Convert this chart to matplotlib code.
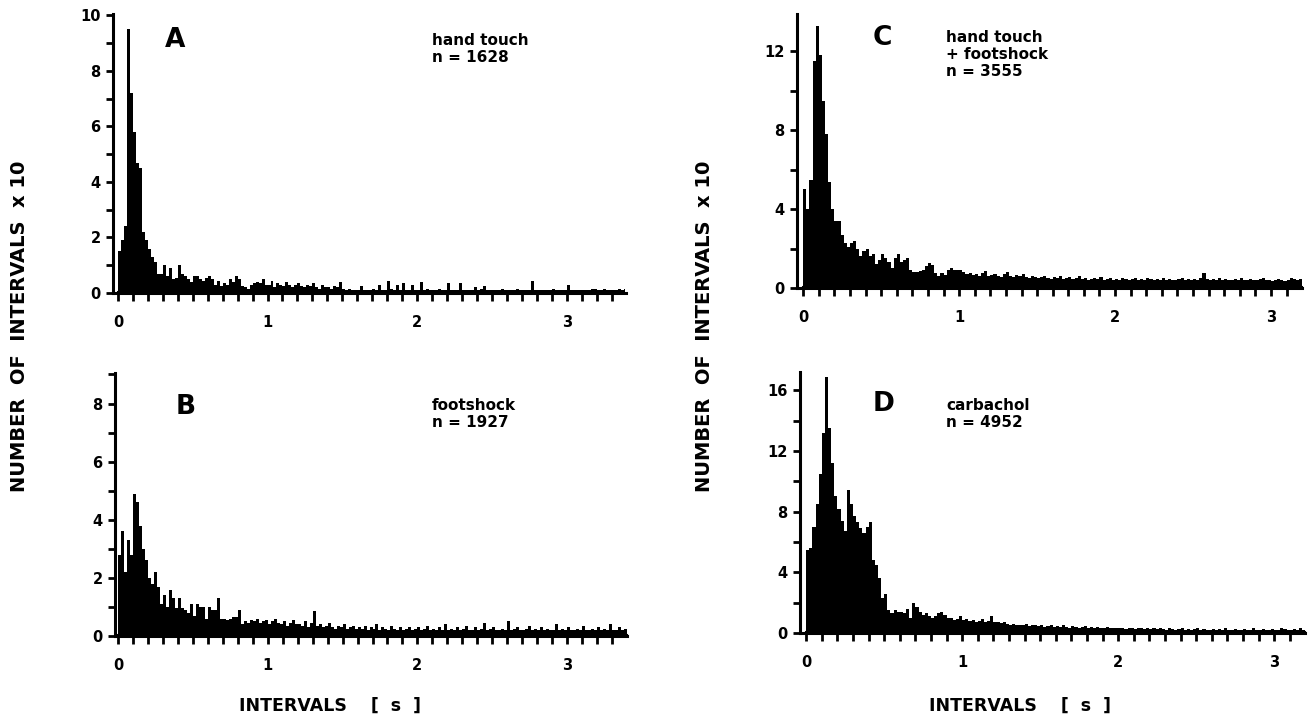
import numpy as np
import matplotlib
matplotlib.use("Agg")
from matplotlib import pyplot as plt
from matplotlib.ticker import MultipleLocator

bin_w = 0.02  # s

# number of intervals x 10, per 20 ms bin
hand_touch = [1.5, 1.9, 2.4, 9.5, 7.2, 5.8, 4.7, 4.5, 2.2, 1.9,
              1.6, 1.3, 1.1, 0.7, 0.7, 1.0, 0.6, 0.9, 0.5, 0.55,
              1.0, 0.7, 0.6, 0.5, 0.4, 0.6, 0.6, 0.5, 0.45, 0.55,
              0.6, 0.5, 0.3, 0.45, 0.25, 0.35, 0.3, 0.5, 0.4, 0.6,
              0.5, 0.25, 0.2, 0.15, 0.3, 0.35, 0.4, 0.35, 0.5, 0.3,
              0.3, 0.45, 0.2, 0.35, 0.3, 0.25, 0.4, 0.3, 0.2, 0.3,
              0.35, 0.25, 0.2, 0.3, 0.25, 0.35, 0.2, 0.15, 0.3, 0.2,
              0.2, 0.15, 0.25, 0.2, 0.4, 0.15, 0.1, 0.15, 0.1, 0.1,
              0.1, 0.25, 0.1, 0.1, 0.1, 0.15, 0.1, 0.3, 0.1, 0.1,
              0.45, 0.15, 0.1, 0.3, 0.1, 0.35, 0.1, 0.1, 0.3, 0.1,
              0.1, 0.4, 0.1, 0.15, 0.1, 0.1, 0.1, 0.15, 0.1, 0.1,
              0.35, 0.1, 0.1, 0.1, 0.35, 0.1, 0.1, 0.1, 0.1, 0.2,
              0.1, 0.15, 0.25, 0.1, 0.1, 0.1, 0.1, 0.1, 0.15, 0.1,
              0.1, 0.1, 0.1, 0.15, 0.1, 0.1, 0.1, 0.1, 0.45, 0.1,
              0.1, 0.1, 0.1, 0.1, 0.1, 0.15, 0.1, 0.1, 0.1, 0.1,
              0.3, 0.1, 0.1, 0.1, 0.1, 0.1, 0.1, 0.1, 0.15, 0.15,
              0.1, 0.1, 0.15, 0.1, 0.1, 0.1, 0.1, 0.15, 0.1, 0.15]

footshock = [2.8, 3.6, 2.2, 3.3, 2.8, 4.9, 4.6, 3.8, 3.0, 2.6,
             2.0, 1.8, 2.2, 1.7, 1.1, 1.4, 1.0, 1.6, 1.3, 0.95,
             1.3, 0.95, 0.9, 0.8, 1.1, 0.7, 1.1, 1.0, 1.0, 0.6,
             1.0, 0.9, 0.9, 1.3, 0.6, 0.6, 0.55, 0.6, 0.65, 0.65,
             0.9, 0.4, 0.5, 0.45, 0.55, 0.5, 0.6, 0.45, 0.5, 0.55,
             0.4, 0.5, 0.6, 0.45, 0.4, 0.5, 0.35, 0.45, 0.55, 0.4,
             0.4, 0.35, 0.5, 0.3, 0.45, 0.85, 0.35, 0.4, 0.3, 0.35,
             0.45, 0.3, 0.25, 0.35, 0.3, 0.4, 0.25, 0.3, 0.35, 0.25,
             0.3, 0.25, 0.35, 0.2, 0.3, 0.25, 0.4, 0.2, 0.3, 0.25,
             0.2, 0.35, 0.25, 0.2, 0.3, 0.2, 0.25, 0.3, 0.2, 0.25,
             0.3, 0.2, 0.25, 0.35, 0.2, 0.25, 0.2, 0.3, 0.2, 0.4,
             0.2, 0.25, 0.2, 0.3, 0.2, 0.25, 0.35, 0.2, 0.2, 0.3,
             0.2, 0.25, 0.45, 0.2, 0.25, 0.3, 0.2, 0.2, 0.25, 0.2,
             0.5, 0.2, 0.25, 0.3, 0.2, 0.2, 0.25, 0.35, 0.2, 0.25,
             0.2, 0.3, 0.2, 0.25, 0.2, 0.2, 0.4, 0.2, 0.25, 0.2,
             0.3, 0.2, 0.2, 0.25, 0.2, 0.35, 0.2, 0.2, 0.25, 0.2,
             0.3, 0.2, 0.25, 0.2, 0.4, 0.2, 0.2, 0.3, 0.2, 0.25]

touch_shock = [5.0, 4.0, 5.5, 11.5, 13.3, 11.8, 9.5, 7.8, 5.4, 4.0,
               3.4, 3.4, 2.7, 2.3, 2.1, 2.3, 2.4, 2.0, 1.6, 1.9,
               2.0, 1.6, 1.75, 1.2, 1.4, 1.7, 1.5, 1.3, 1.0, 1.5,
               1.7, 1.3, 1.4, 1.5, 0.9, 0.8, 0.8, 0.85, 0.9, 1.1,
               1.25, 1.15, 0.75, 0.6, 0.75, 0.65, 0.9, 1.0, 0.9, 0.9,
               0.9, 0.8, 0.7, 0.75, 0.65, 0.7, 0.6, 0.75, 0.85, 0.6,
               0.65, 0.7, 0.6, 0.55, 0.7, 0.8, 0.6, 0.55, 0.65, 0.6,
               0.7, 0.55, 0.5, 0.6, 0.55, 0.5, 0.55, 0.6, 0.5, 0.45,
               0.55, 0.5, 0.6, 0.45, 0.5, 0.55, 0.45, 0.5, 0.6, 0.45,
               0.5, 0.4, 0.45, 0.5, 0.45, 0.55, 0.4, 0.45, 0.5, 0.4,
               0.45, 0.4, 0.5, 0.45, 0.4, 0.45, 0.5, 0.4, 0.45, 0.4,
               0.5, 0.45, 0.4, 0.45, 0.4, 0.5, 0.4, 0.45, 0.4, 0.4,
               0.45, 0.5, 0.4, 0.45, 0.4, 0.45, 0.4, 0.5, 0.75, 0.45,
               0.4, 0.45, 0.4, 0.5, 0.4, 0.45, 0.4, 0.4, 0.45, 0.4,
               0.5, 0.4, 0.4, 0.45, 0.4, 0.4, 0.45, 0.5, 0.4, 0.4,
               0.35, 0.4, 0.45, 0.4, 0.35, 0.4, 0.5, 0.45, 0.4, 0.45]

carbachol = [5.5, 5.6, 7.0, 8.5, 10.5, 13.2, 16.9, 13.5, 11.2, 9.0,
             8.2, 7.4, 6.7, 9.4, 8.5, 7.7, 7.3, 6.9, 6.6, 7.0,
             7.3, 4.8, 4.5, 3.6, 2.3, 2.6, 1.5, 1.3, 1.5, 1.4,
             1.4, 1.3, 1.6, 1.0, 2.0, 1.7, 1.4, 1.2, 1.3, 1.1,
             1.0, 1.1, 1.3, 1.4, 1.2, 1.0, 1.0, 0.85, 0.9, 1.1,
             0.85, 0.9, 0.8, 0.85, 0.7, 0.8, 0.9, 0.75, 0.8, 1.1,
             0.7, 0.75, 0.65, 0.7, 0.6, 0.55, 0.6, 0.5, 0.55, 0.5,
             0.6, 0.45, 0.5, 0.55, 0.45, 0.5, 0.4, 0.45, 0.5, 0.4,
             0.45, 0.4, 0.5, 0.4, 0.35, 0.45, 0.4, 0.35, 0.4, 0.45,
             0.35, 0.4, 0.35, 0.4, 0.3, 0.35, 0.4, 0.3, 0.35, 0.3,
             0.3, 0.35, 0.25, 0.3, 0.3, 0.25, 0.3, 0.35, 0.25, 0.3,
             0.25, 0.3, 0.25, 0.3, 0.25, 0.2, 0.3, 0.25, 0.2, 0.25,
             0.3, 0.2, 0.25, 0.2, 0.25, 0.3, 0.2, 0.25, 0.2, 0.2,
             0.25, 0.2, 0.25, 0.2, 0.3, 0.2, 0.2, 0.25, 0.2, 0.2,
             0.25, 0.2, 0.2, 0.3, 0.2, 0.2, 0.25, 0.2, 0.2, 0.25,
             0.2, 0.2, 0.3, 0.25, 0.2, 0.2, 0.25, 0.2, 0.3, 0.2]

letters = ["A", "B", "C", "D"]
conditions = ["hand touch", "footshock", "hand touch\n+ footshock", "carbachol"]
n_counts = [1628, 1927, 3555, 4952]

W, H = 1314, 723
fig = plt.figure(figsize=(W / 100, H / 100), dpi=100)


def px_rect(l, r, top, bot):
    return [l / W, 1 - bot / H, (r - l) / W, (bot - top) / H]


def draw_panel(rect, vals, ytop, ymaj, ymin, xl, xr, xtick_end, letter, cond, n, letter_xy, text_xy):
    ax = fig.add_axes(px_rect(*rect))
    vals = np.array(vals)
    edges = np.arange(len(vals) + 1) * bin_w
    ax.stairs(vals, edges, fill=True, color="black", linewidth=0)
    ax.plot([0, edges[-1]], [0.03 * ytop / 10, 0.03 * ytop / 10], color="black", lw=1.5)
    ax.set_xlim(xl, xr)
    ax.set_ylim(0, ytop)
    for s in ["top", "right"]:
        ax.spines[s].set_visible(False)
    ax.spines["left"].set_linewidth(2.2)
    ax.spines["bottom"].set_linewidth(2.2)
    ax.spines["bottom"].set_bounds(xl, edges[-1])
    ax.set_xticks([0, 1, 2, 3])
    ax.set_xticks(np.round(np.arange(0, xtick_end + 0.001, 0.1), 2), minor=True)
    ax.yaxis.set_major_locator(MultipleLocator(ymaj))
    ax.yaxis.set_minor_locator(MultipleLocator(ymin))
    ax.tick_params(axis="x", which="both", direction="out", length=6, width=2, pad=10,
                   labelsize=10.5)
    ax.tick_params(axis="y", which="both", direction="out", length=5, width=2, pad=4,
                   labelsize=10.5)
    for lab in ax.get_xticklabels() + ax.get_yticklabels():
        lab.set_fontweight("bold")
    fig.text(letter_xy[0] / W, 1 - letter_xy[1] / H, letter, fontsize=19,
             family="Liberation Sans Narrow", weight="bold", ha="center", va="center")
    fig.text(text_xy[0] / W, 1 - text_xy[1] / H, cond + "\nn = %d" % n, fontsize=11,
             weight="bold", ha="left", va="top", linespacing=1.15)
    return ax


draw_panel((113, 625, 14, 293), hand_touch, 10.05, 2, 1, -0.033, 3.39, 3.3,
           letters[0], conditions[0], n_counts[0], (175, 40), (432, 33))
draw_panel((115, 630, 373, 636), footshock, 9.05, 2, 1, -0.02, 3.42, 3.3,
           letters[1], conditions[1], n_counts[1], (186, 407), (432, 398))
draw_panel((797, 1310, 14, 288), touch_shock, 13.9, 4, 2, -0.04, 3.25, 3.1,
           letters[2], conditions[2], n_counts[2], (882, 38), (946, 30))
draw_panel((800, 1310, 372, 633), carbachol, 17.2, 4, 2, -0.04, 3.23, 3.1,
           letters[3], conditions[3], n_counts[3], (884, 404), (946, 398))

for xc in (20, 705):
    fig.text(xc / W, 1 - 326 / H, "NUMBER  OF  INTERVALS  x 10", rotation=90, fontsize=14,
             weight="bold", ha="center", va="center")
for xc in (330, 1020):
    fig.text(xc / W, 1 - 706 / H, "INTERVALS    [  s  ]", fontsize=12.5, weight="bold",
             ha="center", va="center")

fig.savefig("out.png", dpi=100)
